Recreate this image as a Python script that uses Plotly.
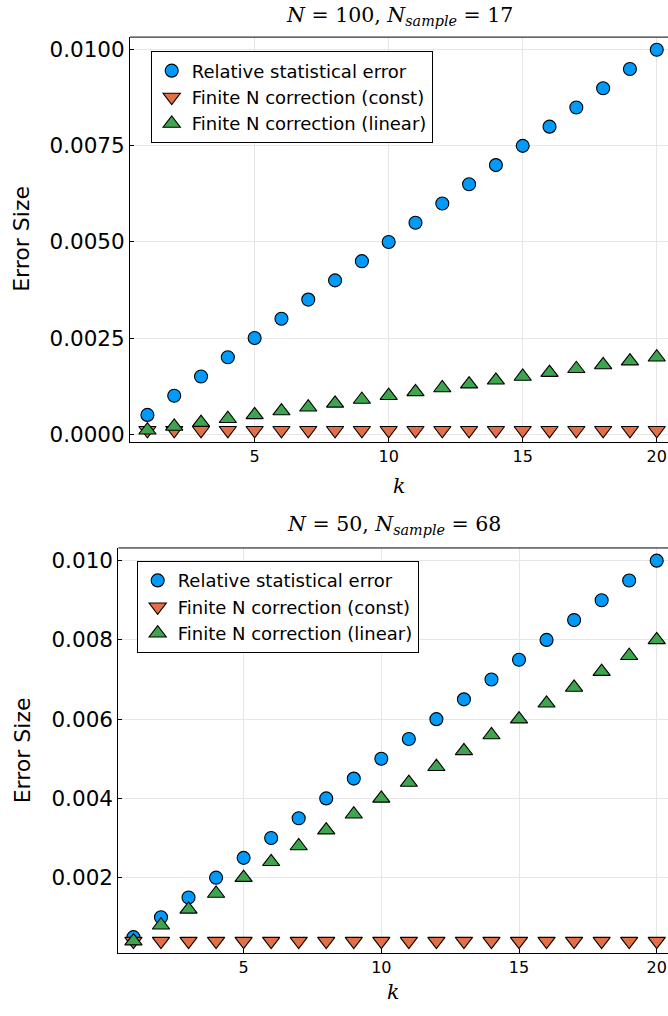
import plotly.graph_objects as go

k = list(range(1, 21))

# Top panel: N = 100, N_sample = 17
top_rel = [0.0005, 0.0010, 0.0015, 0.0020, 0.0025, 0.0030, 0.0035, 0.0040, 0.0045, 0.0050,
           0.0055, 0.0060, 0.0065, 0.0070, 0.0075, 0.0080, 0.0085, 0.0090, 0.0095, 0.0100]
top_const = [0.0001] * 20
top_linear = [0.0001, 0.0002, 0.0003, 0.0004, 0.0005, 0.0006, 0.0007, 0.0008, 0.0009, 0.0010,
              0.0011, 0.0012, 0.0013, 0.0014, 0.0015, 0.0016, 0.0017, 0.0018, 0.0019, 0.0020]

# Bottom panel: N = 50, N_sample = 68
bot_rel = [0.0005, 0.0010, 0.0015, 0.0020, 0.0025, 0.0030, 0.0035, 0.0040, 0.0045, 0.0050,
           0.0055, 0.0060, 0.0065, 0.0070, 0.0075, 0.0080, 0.0085, 0.0090, 0.0095, 0.0100]
bot_const = [0.0004] * 20
bot_linear = [0.0004, 0.0008, 0.0012, 0.0016, 0.0020, 0.0024, 0.0028, 0.0032, 0.0036, 0.0040,
              0.0044, 0.0048, 0.0052, 0.0056, 0.0060, 0.0064, 0.0068, 0.0072, 0.0076, 0.0080]

names = ["Relative statistical error", "Finite N correction (const)", "Finite N correction (linear)"]
colors = ["#009AFA", "#E36F47", "#3EA44E"]
symbols = ["circle", "triangle-down", "triangle-up"]
sizes = [13, 15, 15]

top_tick_vals = [0.0, 0.0025, 0.005, 0.0075, 0.01]
top_tick_text = ["0.0000", "0.0025", "0.0050", "0.0075", "0.0100"]
bot_tick_vals = [0.002, 0.004, 0.006, 0.008, 0.010]
bot_tick_text = ["0.002", "0.004", "0.006", "0.008", "0.010"]
x_tick_vals = [5, 10, 15, 20]

SANS = "DejaVu Sans"
SERIF = "DejaVu Serif"

fig = go.Figure()

for panel, (series, xa, ya, leg) in enumerate([
        ((top_rel, top_const, top_linear), "x", "y", "legend"),
        ((bot_rel, bot_const, bot_linear), "x2", "y2", "legend2")]):
    for i, vals in enumerate(series):
        fig.add_trace(go.Scatter(
            x=k, y=vals, mode="markers", name=names[i],
            xaxis=xa, yaxis=ya, legend=leg, cliponaxis=False,
            marker=dict(symbol=symbols[i], size=sizes[i], color=colors[i],
                        line=dict(color="black", width=1.1)),
        ))

axis_common = dict(showgrid=True, gridcolor="#e6e6e6", gridwidth=1, zeroline=False,
                   ticks="inside", ticklen=4, tickcolor="black", showline=True,
                   linecolor="black", linewidth=1)

fig.update_layout(
    width=668, height=1016,
    margin=dict(l=0, r=0, t=0, b=0),
    paper_bgcolor="white", plot_bgcolor="white",
    font=dict(family=SANS, color="black"),
    showlegend=True,
    xaxis=dict(domain=[0.1946, 1.0], anchor="y", range=[0.35, 20.42],
               tickvals=x_tick_vals, tickfont=dict(size=16, family=SANS), **axis_common),
    yaxis=dict(domain=[0.5630, 0.9633], anchor="x", range=[-0.0002, 0.01033],
               tickvals=top_tick_vals, ticktext=top_tick_text,
               tickfont=dict(size=21.5, family=SANS), **axis_common),
    xaxis2=dict(domain=[0.1771, 1.0], anchor="y2", range=[0.45, 20.41],
                tickvals=x_tick_vals, tickfont=dict(size=16, family=SANS), **axis_common),
    yaxis2=dict(domain=[0.0574, 0.4580], anchor="x2", range=[0.0001, 0.01032],
                tickvals=bot_tick_vals, ticktext=bot_tick_text,
                tickfont=dict(size=21.5, family=SANS), **axis_common),
    legend=dict(x=0.2256, y=0.9491, xanchor="left", yanchor="top",
                bgcolor="white", bordercolor="black", borderwidth=1,
                font=dict(size=18, family=SANS), tracegroupgap=0),
    legend2=dict(x=0.2046, y=0.4449, xanchor="left", yanchor="top",
                 bgcolor="white", bordercolor="black", borderwidth=1,
                 font=dict(size=18, family=SANS), tracegroupgap=0),
)

# top frame lines
for xa, ya in [("x", "y"), ("x2", "y2")]:
    fig.add_shape(type="line", xref=f"{xa} domain", yref=f"{ya} domain",
                  x0=0, x1=1, y0=1, y1=1, line=dict(color="black", width=1))

annotations = [
    dict(text="<i>N</i> = 100, <i>N</i><sub><i>sample</i></sub> = 17", x=400, y=16),
    dict(text="<i>N</i> = 50, <i>N</i><sub><i>sample</i></sub> = 68", x=394, y=528),
    dict(text="<i>k</i>", x=399, y=488),
    dict(text="<i>k</i>", x=393, y=997),
]
for a in annotations:
    fig.add_annotation(text=a["text"], x=a["x"] / 668, y=1 - a["y"] / 1016,
                       xref="paper", yref="paper", showarrow=False,
                       xanchor="center", yanchor="middle",
                       font=dict(family=SERIF, size=20.5, color="black"))

for yc in [240, 754]:
    fig.add_annotation(text="Error Size", x=22 / 668, y=1 - yc / 1016,
                       xref="paper", yref="paper", showarrow=False, textangle=-90,
                       xanchor="center", yanchor="middle",
                       font=dict(family=SANS, size=22, color="black"))

fig.write_html("out.html", config={"displayModeBar": False},
               post_script="document.body.style.margin='0';document.body.style.overflow='hidden';")
